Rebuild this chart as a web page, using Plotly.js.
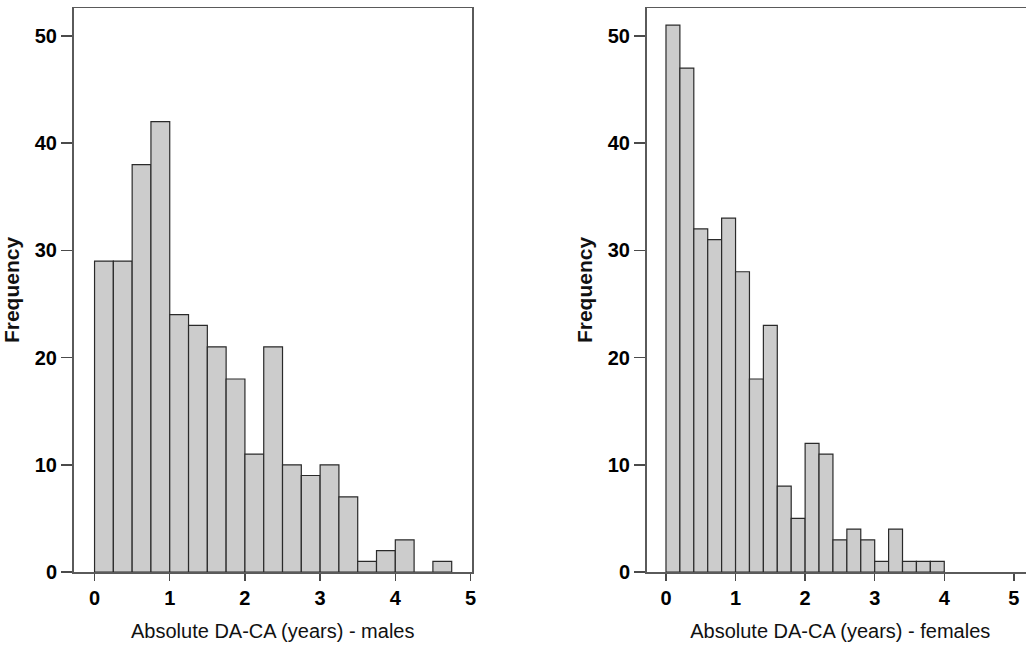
<!DOCTYPE html>
<html>
<head>
<meta charset="utf-8">
<script src="https://cdn.plot.ly/plotly-3.0.1.min.js"></script>
<style>
html, body { margin: 0; padding: 0; overflow: hidden; background: #ffffff; }
#chart { width: 1040px; height: 654px; }
</style>
</head>
<body>
<div id="chart"></div>
<script>
// Males: bins of width 0.25 starting at 0
const maleBinStart = 0;
const maleBinWidth = 0.25;
const maleCounts = [29, 29, 38, 42, 24, 23, 21, 18, 11, 21, 10, 9, 10, 7, 1, 2, 3, 0, 1];

// Females: bins of width 0.2 starting at 0
const femaleBinStart = 0;
const femaleBinWidth = 0.2;
const femaleCounts = [51, 47, 32, 31, 33, 28, 18, 23, 8, 5, 12, 11, 3, 4, 3, 1, 4, 1, 1, 1];

const xTickVals = [0, 1, 2, 3, 4, 5];
const yTickVals = [0, 10, 20, 30, 40, 50];
const xTitleMales = "Absolute DA-CA (years) - males";
const xTitleFemales = "Absolute DA-CA (years) - females";
const yTitle = "Frequency";

function centers(start, w, counts) {
  return counts.map((_, i) => start + w * (i + 0.5));
}

const barStyle = {
  color: '#cccccc',
  line: { color: '#2a2a2a', width: 1.2 }
};

const traces = [
  {
    type: 'bar',
    x: centers(maleBinStart, maleBinWidth, maleCounts),
    y: maleCounts,
    width: maleBinWidth,
    marker: barStyle,
    xaxis: 'x', yaxis: 'y',
    hoverinfo: 'x+y',
    showlegend: false
  },
  {
    type: 'bar',
    x: centers(femaleBinStart, femaleBinWidth, femaleCounts),
    y: femaleCounts,
    width: femaleBinWidth,
    marker: barStyle,
    xaxis: 'x2', yaxis: 'y2',
    hoverinfo: 'x+y',
    showlegend: false
  }
];

const tickFont = { family: '"Liberation Sans", Arial, sans-serif', size: 20, color: '#000000', weight: 'bold' };
const xTitleFont = { family: '"Liberation Sans", Arial, sans-serif', size: 20, color: '#111111' };
const yTitleFont = { family: '"Liberation Sans", Arial, sans-serif', size: 21, color: '#111111', weight: 'bold' };

function xAxis(range, domain, title) {
  return {
    domain: domain,
    range: range,
    tickvals: xTickVals,
    ticktext: xTickVals.map(String),
    ticks: 'outside', ticklen: 7, tickwidth: 1.5, tickcolor: '#4a4a4a',
    showline: true, linecolor: '#5a5a5a', linewidth: 1.5, mirror: true,
    showgrid: false, zeroline: false,
    tickfont: tickFont,
    title: { text: title, font: xTitleFont, standoff: 16 },
    fixedrange: true
  };
}
function yAxis(anchor) {
  return {
    domain: [1 - 572 / 654, 1 - 8 / 654],
    range: [0, 52.6],
    anchor: anchor,
    tickvals: yTickVals,
    ticktext: yTickVals.map(String),
    ticks: 'outside', ticklen: 11, tickwidth: 1.5, tickcolor: '#4a4a4a',
    showline: true, linecolor: '#5a5a5a', linewidth: 1.5, mirror: true,
    showgrid: false, zeroline: false,
    tickfont: tickFont,
    title: { text: yTitle, font: yTitleFont, standoff: 9 },
    fixedrange: true
  };
}

const W = 1040;
const layout = {
  width: W, height: 654,
  margin: { l: 0, r: 0, t: 0, b: 0 },
  paper_bgcolor: '#ffffff', plot_bgcolor: '#ffffff',
  bargap: 0,
  xaxis: Object.assign(xAxis([-0.28, 5.02], [73.5 / W, 472 / W], xTitleMales), { anchor: 'y' }),
  yaxis: yAxis('x'),
  xaxis2: Object.assign(xAxis([-0.28, 5.29], [646.5 / W, 1034 / W], xTitleFemales), { anchor: 'y2' }),
  yaxis2: yAxis('x2'),
  showlegend: false
};

Plotly.newPlot('chart', traces, layout, { displayModeBar: false, staticPlot: true });
</script>
</body>
</html>
